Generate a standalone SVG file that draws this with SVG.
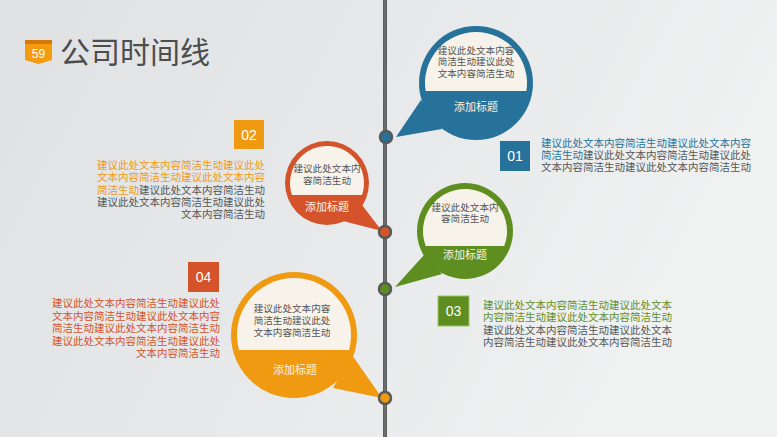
<svg xmlns="http://www.w3.org/2000/svg" width="777" height="437" viewBox="0 0 777 437">
<defs>
<linearGradient id="bg" x1="0" y1="0" x2="1" y2="0.3">
<stop offset="0" stop-color="#dfe1e3"/>
<stop offset="0.55" stop-color="#e7e9ea"/>
<stop offset="1" stop-color="#f0f1f1"/>
</linearGradient>
<style>
.t{font-family:"Liberation Sans","Noto Sans CJK SC",sans-serif;}
.body{font-size:10.5px;fill:#555;}
.bub{font-size:9.6px;fill:#555;text-anchor:middle;}
.cap{font-size:11px;fill:#fbf3e2;text-anchor:middle;}
.num{font-family:"Liberation Sans",Arial,sans-serif;font-size:14px;fill:#fff;text-anchor:middle;}
.cream{fill:#f7f3ea;}
.dot{stroke:#575a59;stroke-width:2.5;}
.blue{fill:#27729a;}
.red{fill:#d4532a;}
.green{fill:#5e8e1f;}
.orange{fill:#f09a12;}
.end{text-anchor:end;}
</style>
</defs>
<rect width="777" height="437" fill="url(#bg)"/>

<g id="title">
<rect x="25" y="40" width="27" height="5" fill="#d8780a"/>
<polygon points="25,44 52,44 52,60 38.5,64 25,60" fill="#f39c12"/>
<text x="38.5" y="58" font-family="Liberation Sans,Arial,sans-serif" font-size="12" fill="#fff" text-anchor="middle">59</text>
<text class="t" x="60" y="63" font-size="30" fill="#4d4d4d">公司时间线</text>
</g>

<g id="connectors">
<line x1="385" y1="0" x2="385" y2="437" stroke="#5b5e5d" stroke-width="4"/>
<line x1="385" y1="0" x2="385" y2="437" stroke="#7a7d7c" stroke-width="1"/>
</g>

<g id="node-1">
<polygon class="blue" points="421,100 442,129 396,137"/>
<circle class="blue" cx="476" cy="83" r="57"/>
<path class="cream" d="M425.63,91 A51 51 0 1 1 526.37,91 Z"/>
<text class="t bub"><tspan x="476" y="53.5">建议此处文本内容</tspan><tspan x="476" dy="11.7">简洁生动建议此处</tspan><tspan x="476" dy="11.7">文本内容简洁生动</tspan></text>
<text class="t cap" x="476" y="111">添加标题</text>
<circle class="blue dot" cx="386" cy="137" r="6"/>
</g>

<g id="node-2">
<polygon class="red" points="362,205 343,221 382,231"/>
<circle class="red" cx="327" cy="183" r="42"/>
<path class="cream" d="M292,195 A37 37 0 1 1 362,195 Z"/>
<text class="t bub"><tspan x="327" y="171.5">建议此处文本内</tspan><tspan x="327" dy="12">容简洁生动</tspan></text>
<text class="t cap" x="327" y="211">添加标题</text>
<circle class="red dot" cx="385" cy="232" r="6"/>
</g>

<g id="node-3">
<polygon class="green" points="424,255 442,274 395,287"/>
<circle class="green" cx="465" cy="231" r="48"/>
<path class="cream" d="M425.77,246 A42 42 0 1 1 504.23,246 Z"/>
<text class="t bub"><tspan x="465" y="210.5">建议此处文本内</tspan><tspan x="465" dy="11.7">容简洁生动</tspan></text>
<text class="t cap" x="465" y="259">添加标题</text>
<circle class="green dot" cx="385" cy="289" r="6"/>
</g>

<g id="node-4">
<polygon class="orange" points="352,355 333,388 382,398"/>
<circle class="orange" cx="294" cy="335" r="63"/>
<path class="cream" d="M239.01,350 A57 57 0 1 1 348.99,350 Z"/>
<text class="t bub"><tspan x="292" y="311.5">建议此处文本内容</tspan><tspan x="292" dy="12">简洁生动建议此处</tspan><tspan x="292" dy="12">文本内容简洁生动</tspan></text>
<text class="t cap" x="295" y="374">添加标题</text>
<circle class="orange dot" cx="385" cy="398" r="6"/>
</g>

<g id="label-01">
<rect class="blue" x="500" y="141" width="30" height="30"/>
<text class="num" x="515" y="161">01</text>
<text class="t body"><tspan x="541" y="147" fill="#27729a">建议此处文本内容简洁生动建议此处文本内容</tspan><tspan x="541" dy="12" fill="#27729a">简洁生动</tspan><tspan>建议此处文本内容简洁生动建议此处</tspan><tspan x="541" dy="12">文本内容简洁生动建议此处文本内容简洁生动</tspan></text>
</g>

<g id="label-02">
<rect class="orange" x="234" y="120" width="30" height="29"/>
<text class="num" x="249" y="140">02</text>
<text class="t body end"><tspan x="265" y="169" fill="#f09a12">建议此处文本内容简洁生动建议此处</tspan><tspan x="265" dy="12.3" fill="#f09a12">文本内容简洁生动建议此处文本内容</tspan><tspan x="265" dy="12.3" fill="#f09a12">简洁生动</tspan><tspan>建议此处文本内容简洁生动</tspan><tspan x="265" dy="12.3">建议此处文本内容简洁生动建议此处</tspan><tspan x="265" dy="12.3">文本内容简洁生动</tspan></text>
</g>

<g id="label-03">
<rect class="green" x="438" y="296" width="31" height="30" stroke="#9cc163" stroke-width="1"/>
<text class="num" x="453.5" y="316">03</text>
<text class="t body"><tspan x="483" y="309" fill="#5e8e1f">建议此处文本内容简洁生动建议此处文本</tspan><tspan x="483" dy="12.3" fill="#5e8e1f">内容简洁生动建议此处文本内容简洁生动</tspan><tspan x="483" dy="12.3">建议此处文本内容简洁生动建议此处文本</tspan><tspan x="483" dy="12.3">内容简洁生动建议此处文本内容简洁生动</tspan></text>
</g>

<g id="label-04">
<rect class="red" x="188" y="262" width="31" height="30"/>
<text class="num" x="203.5" y="282">04</text>
<text class="t end" font-size="10.5" fill="#d4532a"><tspan x="220" y="307">建议此处文本内容简洁生动建议此处</tspan><tspan x="220" dy="12.6">文本内容简洁生动建议此处文本内容</tspan><tspan x="220" dy="12.6">简洁生动建议此处文本内容简洁生动</tspan><tspan x="220" dy="12.6">建议此处文本内容简洁生动建议此处</tspan><tspan x="220" dy="12.6">文本内容简洁生动</tspan></text>
</g>
</svg>
